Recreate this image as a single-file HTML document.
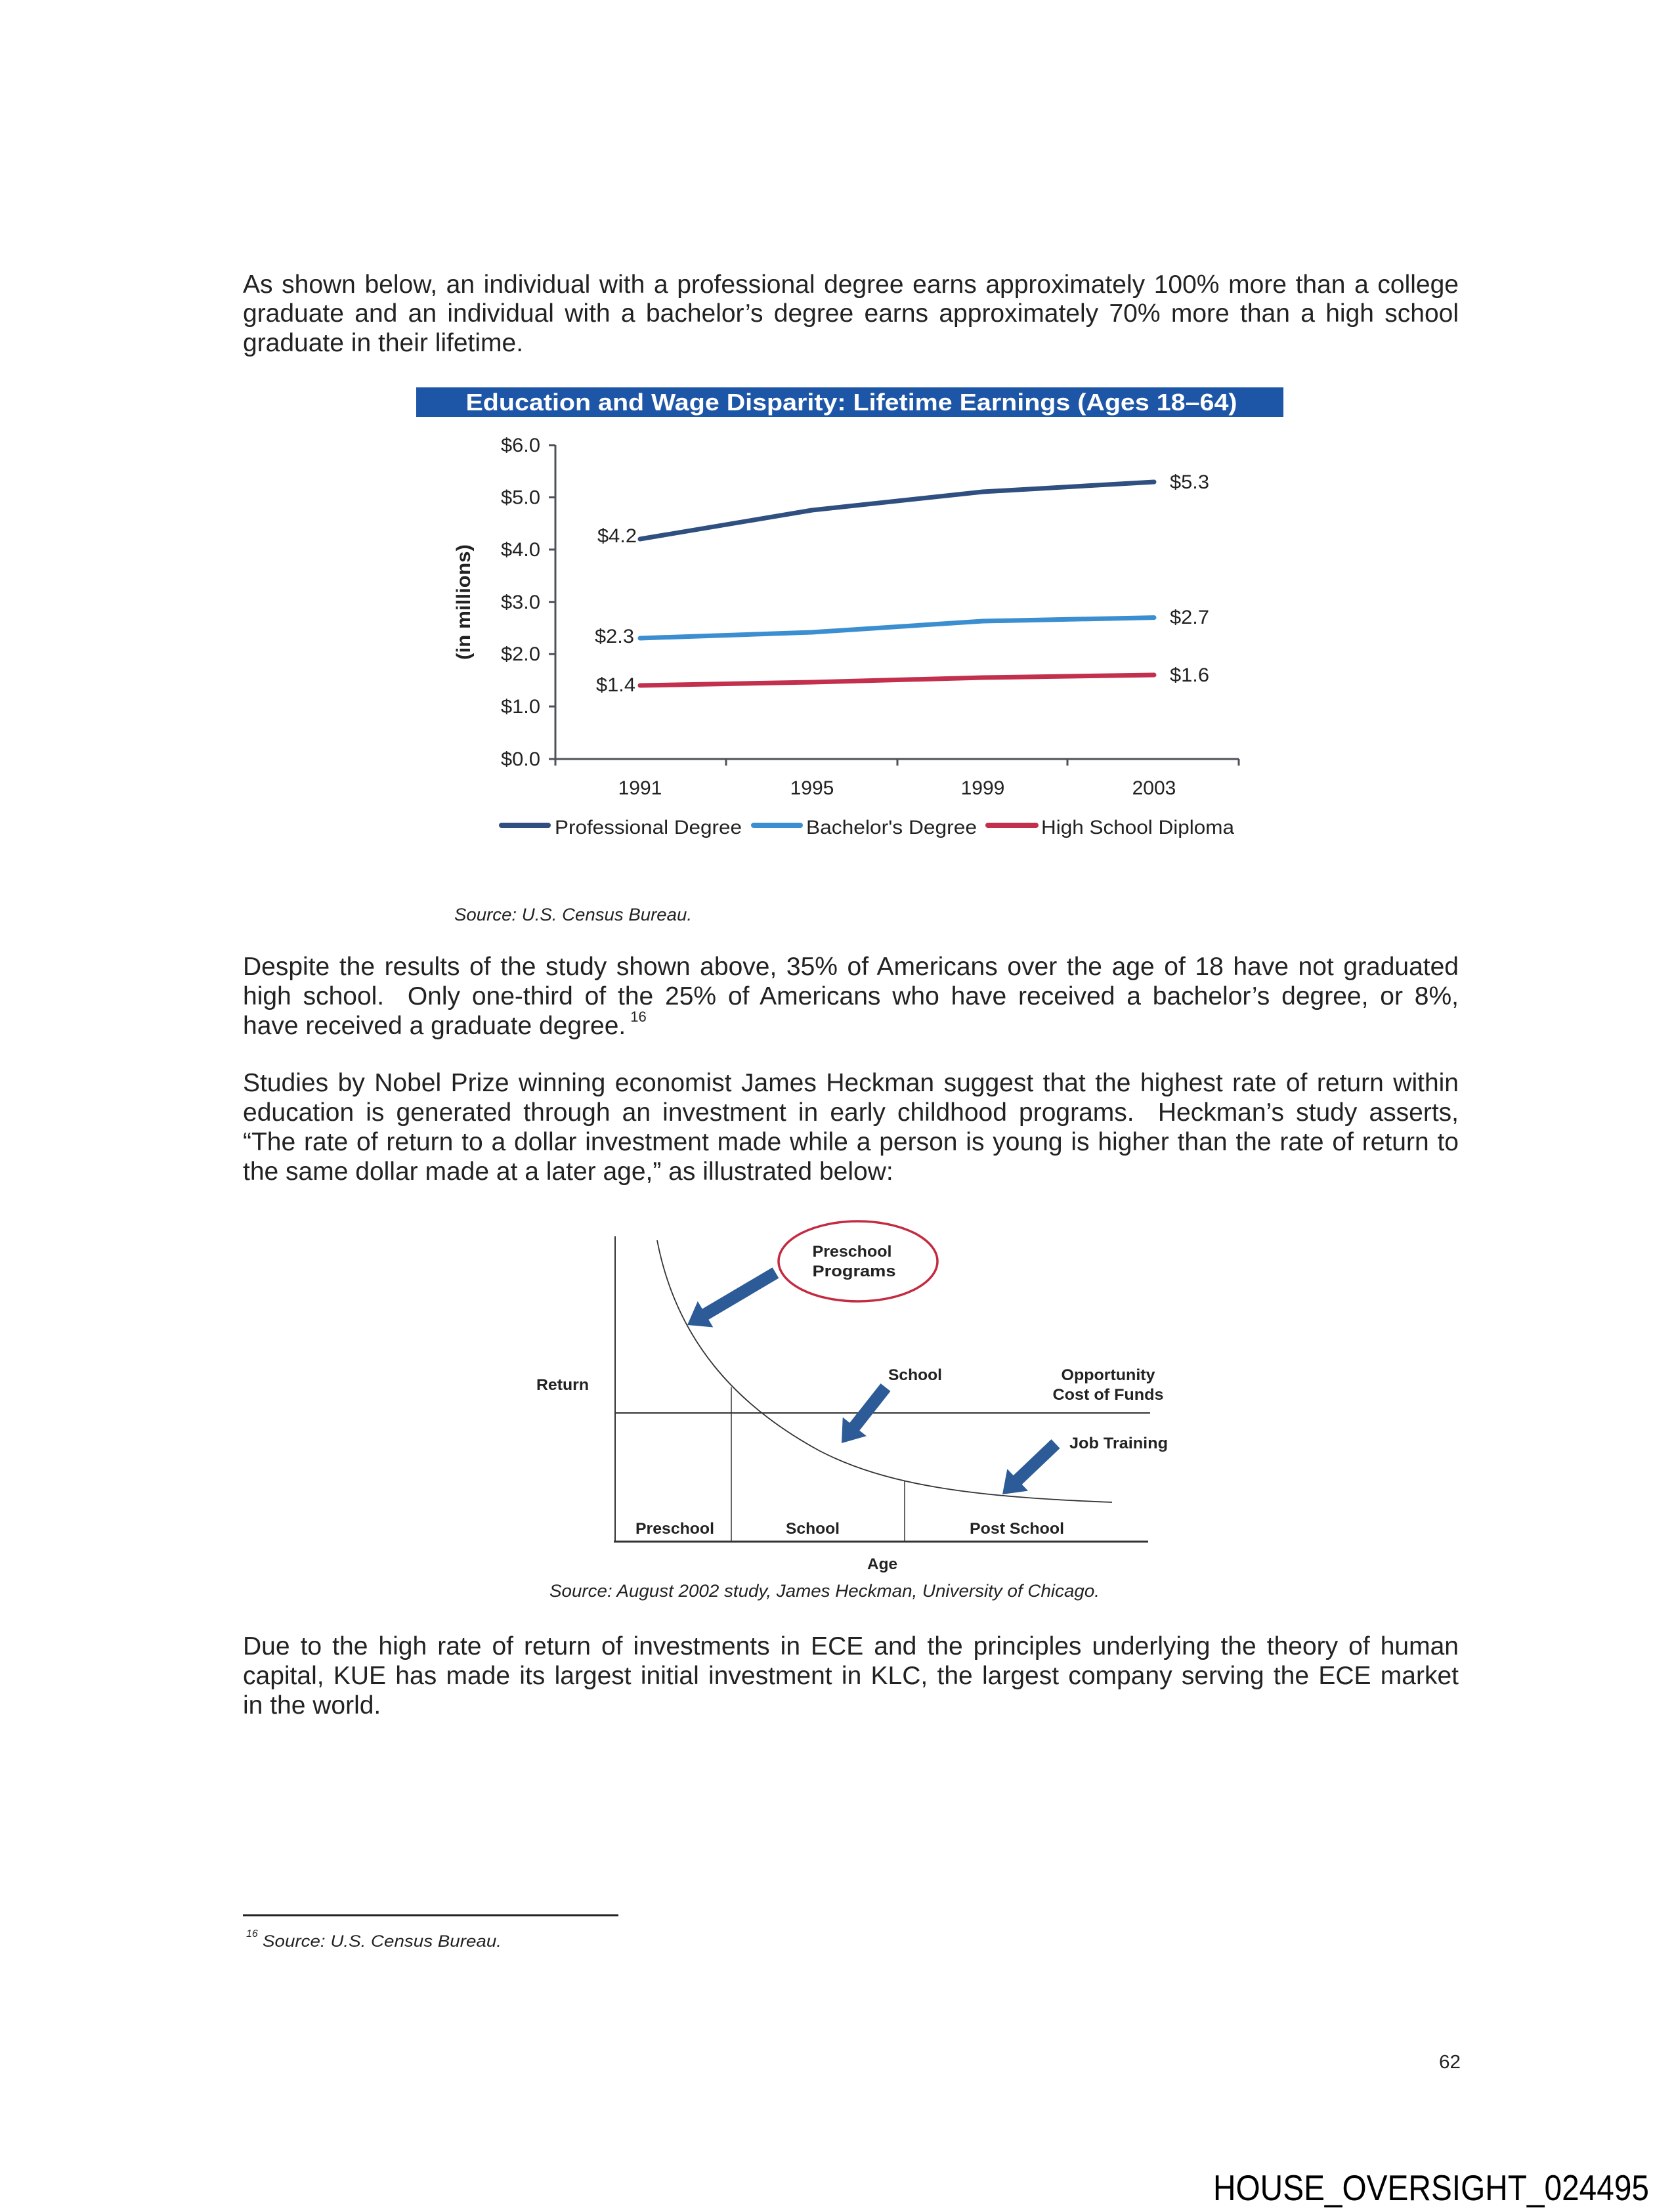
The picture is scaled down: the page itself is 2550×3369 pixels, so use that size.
<!DOCTYPE html>
<html>
<head>
<meta charset="utf-8">
<style>
  html, body { margin:0; padding:0; background:#fff; }
  #page { position:relative; width:2550px; height:3369px; background:#fff; overflow:hidden; }
  .ln { position:absolute; left:370px; width:1852px; height:45px; line-height:45px;
        font-family:"Liberation Sans", Arial, sans-serif; font-size:39px; color:#222;
        text-align:justify; text-align-last:justify; white-space:normal; }
  .last { text-align:left; text-align-last:left; }
  .sup { position:relative; top:-19px; font-size:22px; margin-left:7px; }
  svg { position:absolute; left:0; top:0; }
</style>
</head>
<body>
<div id="page">

<svg width="2550" height="3369" viewBox="0 0 2550 3369" xmlns="http://www.w3.org/2000/svg" font-family="Liberation Sans, Arial, sans-serif">
  <!-- ===== Chart 1 ===== -->
  <rect x="634" y="590" width="1321" height="45" fill="#1d55a7"/>
  <text x="1297" y="625" text-anchor="middle" font-weight="bold" font-size="36" fill="#ffffff" textLength="1175" lengthAdjust="spacingAndGlyphs">Education and Wage Disparity: Lifetime Earnings (Ages 18–64)</text>

  <g stroke="#4d525a" stroke-width="3" fill="none">
    <path d="M846 678 V1156 H1887"/>
    <path d="M836 678 H846 M836 757.5 H846 M836 837 H846 M836 916.7 H846 M836 996.3 H846 M836 1076 H846 M836 1156 H846"/>
    <path d="M846 1156 V1166 M1106 1156 V1166 M1367 1156 V1166 M1626 1156 V1166 M1887 1156 V1166"/>
  </g>

  <g font-size="30" fill="#222" text-anchor="end">
    <text x="823" y="688" textLength="60" lengthAdjust="spacingAndGlyphs">$6.0</text>
    <text x="823" y="767.5" textLength="60" lengthAdjust="spacingAndGlyphs">$5.0</text>
    <text x="823" y="847" textLength="60" lengthAdjust="spacingAndGlyphs">$4.0</text>
    <text x="823" y="927" textLength="60" lengthAdjust="spacingAndGlyphs">$3.0</text>
    <text x="823" y="1006" textLength="60" lengthAdjust="spacingAndGlyphs">$2.0</text>
    <text x="823" y="1086" textLength="60" lengthAdjust="spacingAndGlyphs">$1.0</text>
    <text x="823" y="1166" textLength="60" lengthAdjust="spacingAndGlyphs">$0.0</text>
  </g>

  <text transform="translate(716,917) rotate(-90)" text-anchor="middle" font-weight="bold" font-size="30" fill="#222" textLength="176" lengthAdjust="spacingAndGlyphs">(in millions)</text>

  <g font-size="30" fill="#222" text-anchor="middle">
    <text x="975" y="1210">1991</text>
    <text x="1237" y="1210">1995</text>
    <text x="1497" y="1210">1999</text>
    <text x="1758" y="1210">2003</text>
  </g>

  <g fill="none" stroke-width="7" stroke-linecap="round" stroke-linejoin="round">
    <polyline stroke="#2f4f80" points="975,821 1237,777 1497,749 1758,734"/>
    <polyline stroke="#3b8ed0" points="975,972 1237,963 1497,946 1758,940.6"/>
    <polyline stroke="#c2304e" points="975,1044 1237,1039 1497,1032 1758,1028"/>
  </g>

  <g font-size="30" fill="#222">
    <text x="970" y="826" text-anchor="end" textLength="60" lengthAdjust="spacingAndGlyphs">$4.2</text>
    <text x="966" y="979" text-anchor="end" textLength="60" lengthAdjust="spacingAndGlyphs">$2.3</text>
    <text x="968" y="1053" text-anchor="end" textLength="60" lengthAdjust="spacingAndGlyphs">$1.4</text>
    <text x="1782" y="744" textLength="60" lengthAdjust="spacingAndGlyphs">$5.3</text>
    <text x="1782" y="950" textLength="60" lengthAdjust="spacingAndGlyphs">$2.7</text>
    <text x="1782" y="1038" textLength="60" lengthAdjust="spacingAndGlyphs">$1.6</text>
  </g>

  <!-- legend -->
  <g stroke-width="8" stroke-linecap="round">
    <line x1="764" y1="1257" x2="835" y2="1257" stroke="#2f4f80"/>
    <line x1="1148" y1="1257" x2="1219" y2="1257" stroke="#3b8ed0"/>
    <line x1="1505" y1="1257" x2="1578" y2="1257" stroke="#c2304e"/>
  </g>
  <g font-size="30" fill="#222">
    <text x="845" y="1270" textLength="285" lengthAdjust="spacingAndGlyphs">Professional Degree</text>
    <text x="1228" y="1270" textLength="260" lengthAdjust="spacingAndGlyphs">Bachelor's Degree</text>
    <text x="1586" y="1270" textLength="294" lengthAdjust="spacingAndGlyphs">High School Diploma</text>
  </g>

  <text x="692" y="1402" font-style="italic" font-size="27" fill="#222" textLength="362" lengthAdjust="spacingAndGlyphs">Source: U.S. Census Bureau.</text>

  <!-- ===== Chart 2 (Heckman curve) ===== -->
  <g stroke="#333" fill="none">
    <line x1="937" y1="1883" x2="937" y2="2348" stroke-width="2"/>
    <line x1="935" y1="2348" x2="1749" y2="2348" stroke-width="3"/>
    <line x1="937" y1="2152" x2="1752" y2="2152" stroke-width="2"/>
    <line x1="1114" y1="2113" x2="1114" y2="2348" stroke-width="1.5"/>
    <line x1="1378" y1="2255" x2="1378" y2="2348" stroke-width="1.5"/>
    <path d="M1001 1889 C1030 2040 1120 2140 1249 2210 C1350 2262 1480 2280 1694 2288" stroke-width="1.8"/>
  </g>

  <ellipse cx="1307" cy="1921" rx="121" ry="61" fill="none" stroke="#c42a40" stroke-width="3.5"/>

  <g fill="#2c5b97">
    <polygon points="1176.66,1930.32 1069.71,1993.53 1062.84,1981.91 1047,2018 1086.26,2021.51 1079.39,2009.89 1186.34,1946.68"/>
    <polygon points="1341.53,2107.12 1294.34,2166.97 1283.73,2158.61 1282,2198 1319.89,2187.09 1309.28,2178.73 1356.47,2118.88"/>
    <polygon points="1601.46,2192.12 1543.64,2247.08 1534.34,2237.30 1527,2276 1566.02,2270.62 1556.72,2260.84 1614.54,2205.88"/>
  </g>

  <g font-size="24" font-weight="bold" fill="#222">
    <text x="1298" y="1914" text-anchor="middle" textLength="121" lengthAdjust="spacingAndGlyphs">Preschool</text>
    <text x="1301" y="1944" text-anchor="middle" textLength="127" lengthAdjust="spacingAndGlyphs">Programs</text>
    <text x="817" y="2117" textLength="80" lengthAdjust="spacingAndGlyphs">Return</text>
    <text x="1353" y="2102" textLength="82" lengthAdjust="spacingAndGlyphs">School</text>
    <text x="1688" y="2102" text-anchor="middle" textLength="143" lengthAdjust="spacingAndGlyphs">Opportunity</text>
    <text x="1688" y="2132" text-anchor="middle" textLength="169" lengthAdjust="spacingAndGlyphs">Cost of Funds</text>
    <text x="1629" y="2206" textLength="150" lengthAdjust="spacingAndGlyphs">Job Training</text>
    <text x="1028" y="2336" text-anchor="middle" textLength="120" lengthAdjust="spacingAndGlyphs">Preschool</text>
    <text x="1238" y="2336" text-anchor="middle" textLength="82" lengthAdjust="spacingAndGlyphs">School</text>
    <text x="1549" y="2336" text-anchor="middle" textLength="144" lengthAdjust="spacingAndGlyphs">Post School</text>
    <text x="1344" y="2390" text-anchor="middle" textLength="46" lengthAdjust="spacingAndGlyphs">Age</text>
  </g>
  <text x="837" y="2432" font-style="italic" font-size="27" fill="#222" textLength="838" lengthAdjust="spacingAndGlyphs">Source: August 2002 study, James Heckman, University of Chicago.</text>

  <!-- ===== Footnote ===== -->
  <line x1="370" y1="2917" x2="942" y2="2917" stroke="#222" stroke-width="3"/>
  <text x="375" y="2950" font-style="italic" font-size="16" fill="#222">16</text>
  <text x="400" y="2965" font-style="italic" font-size="25" fill="#222" textLength="364" lengthAdjust="spacingAndGlyphs">Source: U.S. Census Bureau.</text>

  <!-- page number & bates -->
  <text x="2192" y="3150" font-size="29" fill="#222" textLength="33" lengthAdjust="spacingAndGlyphs">62</text>
  <text x="1848" y="3351" font-size="55" fill="#000" textLength="664" lengthAdjust="spacingAndGlyphs">HOUSE_OVERSIGHT_024495</text>
</svg>

<!-- Paragraph 1 -->
<div class="ln" style="top:411px;">As shown below, an individual with a professional degree earns approximately 100% more than a college</div>
<div class="ln" style="top:455px;">graduate and an individual with a bachelor’s degree earns approximately 70% more than a high school</div>
<div class="ln last" style="top:500px;">graduate in their lifetime.</div>

<!-- Paragraph 2 -->
<div class="ln" style="top:1450px;">Despite the results of the study shown above, 35% of Americans over the age of 18 have not graduated</div>
<div class="ln" style="top:1495px;">high school.&nbsp; Only one-third of the 25% of Americans who have received a bachelor’s degree, or 8%,</div>
<div class="ln last" style="top:1540px;">have received a graduate degree.<span class="sup">16</span></div>

<!-- Paragraph 3 -->
<div class="ln" style="top:1627px;">Studies by Nobel Prize winning economist James Heckman suggest that the highest rate of return within</div>
<div class="ln" style="top:1672px;">education is generated through an investment in early childhood programs.&nbsp; Heckman’s study asserts,</div>
<div class="ln" style="top:1717px;">“The rate of return to a dollar investment made while a person is young is higher than the rate of return to</div>
<div class="ln last" style="top:1762px;">the same dollar made at a later age,” as illustrated below:</div>

<!-- Paragraph 4 -->
<div class="ln" style="top:2485px;">Due to the high rate of return of investments in ECE and the principles underlying the theory of human</div>
<div class="ln" style="top:2530px;">capital, KUE has made its largest initial investment in KLC, the largest company serving the ECE market</div>
<div class="ln last" style="top:2575px;">in the world.</div>

</div>
</body>
</html>
